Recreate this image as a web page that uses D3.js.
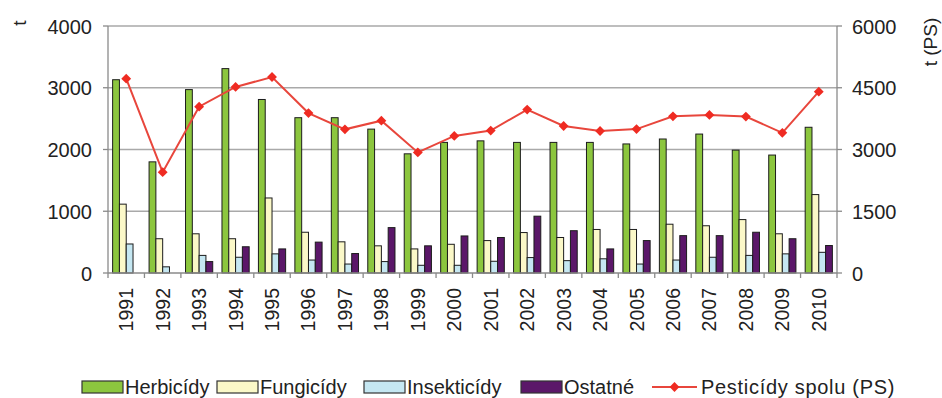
<!DOCTYPE html>
<html><head><meta charset="utf-8">
<script src="https://cdn.jsdelivr.net/npm/d3@7"></script>
<style>body{margin:0;background:#fff}svg{display:block;font-family:"Liberation Sans",Arial,sans-serif}</style>
</head><body><svg id="c" width="942" height="398"></svg>
<script>
const years = ["1991","1992","1993","1994","1995","1996","1997","1998","1999","2000","2001","2002","2003","2004","2005","2006","2007","2008","2009","2010"];
const herbicidy   = [3130,1800,2970,3310,2810,2515,2515,2330,1930,2115,2140,2115,2115,2115,2090,2170,2250,1990,1910,2360];
const fungicidy   = [1115,555,635,555,1215,660,505,440,390,465,525,655,575,705,705,790,765,865,635,1270];
const insekticidy = [470,100,285,255,310,210,145,185,125,125,190,250,200,230,145,210,255,285,310,335];
const ostatne     = [0,0,185,425,390,500,315,735,440,600,575,920,685,390,525,605,605,660,555,445];
const pesticidySpolu = [4720,2450,4040,4520,4760,3885,3490,3700,2930,3330,3460,3970,3570,3450,3495,3805,3840,3800,3405,4405];
const leftTicks = [0,1000,2000,3000,4000];
const rightTicks = [0,1500,3000,4500,6000];
const seriesNames = ["Herbicídy","Fungicídy","Insekticídy","Ostatné"];
const lineName = "Pesticídy spolu (PS)";
const colors = ["#8cc63e","#fbf8c8","#c5e7f2","#5b1769"];

const svg = d3.select("#c");
const L=108, R=837, T=26, B=273;
const x = d3.scaleBand().domain(years).range([L,R]).padding(0);
const yL = d3.scaleLinear().domain([0,4000]).range([B,T]);
const yR = d3.scaleLinear().domain([0,6000]).range([B,T]);
const bw = 6.8;
const xs = d3.scaleBand().domain(seriesNames).range([0,bw*4]);
const off = (x.bandwidth()-bw*4)/2;

// gridlines
svg.append("g").selectAll("line").data(leftTicks.filter(d=>d>0)).join("line")
  .attr("x1",L).attr("x2",R).attr("y1",d=>yL(d)).attr("y2",d=>yL(d))
  .attr("stroke","#a9a9a9").attr("stroke-width",1.3);

// axes lines
svg.append("line").attr("x1",L).attr("x2",L).attr("y1",T).attr("y2",B).attr("stroke","#8a8a8a").attr("stroke-width",1.3);
svg.append("line").attr("x1",R).attr("x2",R).attr("y1",T).attr("y2",B).attr("stroke","#8a8a8a").attr("stroke-width",1.3);

// bars
const allSeries=[herbicidy,fungicidy,insekticidy,ostatne];
allSeries.forEach((arr,si)=>{
  svg.append("g").selectAll("rect").data(arr.map((v,i)=>({y:years[i],v}))).join("rect")
    .filter(d=>d.v>0)
    .attr("x",d=>x(d.y)+off+xs(seriesNames[si]))
    .attr("y",d=>yL(d.v)).attr("width",xs.bandwidth()).attr("height",d=>B-yL(d.v))
    .attr("fill",colors[si]).attr("stroke","#1c1c1c").attr("stroke-width",1);
});

// x axis
svg.append("line").attr("x1",L).attr("x2",R).attr("y1",B).attr("y2",B).attr("stroke","#8a8a8a").attr("stroke-width",1.3);
svg.append("g").selectAll("line").data(years.concat(["end"])).join("line")
  .attr("x1",(d,i)=>L+i*x.bandwidth()).attr("x2",(d,i)=>L+i*x.bandwidth())
  .attr("y1",B).attr("y2",B+5).attr("stroke","#8a8a8a").attr("stroke-width",1.3);
svg.append("g").selectAll("text").data(years).join("text")
  .attr("transform",d=>`translate(${x(d)+x.bandwidth()/2+7},${B+15}) rotate(-90)`)
  .attr("text-anchor","end").attr("font-size",19.5).attr("fill","#222").text(d=>d);

// left ticks
const gl = svg.append("g");
gl.selectAll("line").data(leftTicks).join("line").attr("x1",L-5).attr("x2",L).attr("y1",d=>yL(d)).attr("y2",d=>yL(d)).attr("stroke","#8a8a8a").attr("stroke-width",1.3);
gl.selectAll("text").data(leftTicks).join("text").attr("x",92).attr("y",d=>yL(d)+7.5).attr("text-anchor","end").attr("font-size",20).attr("fill","#222").text(d=>d);
const gr = svg.append("g");
gr.selectAll("line").data(rightTicks).join("line").attr("x1",R).attr("x2",R+5).attr("y1",d=>yR(d)).attr("y2",d=>yR(d)).attr("stroke","#8a8a8a").attr("stroke-width",1.3);
gr.selectAll("text").data(rightTicks).join("text").attr("x",852).attr("y",d=>yR(d)+7.5).attr("text-anchor","start").attr("font-size",20).attr("fill","#222").text(d=>d);

// axis titles
svg.append("text").attr("transform","translate(26,23) rotate(-90)").attr("text-anchor","middle").attr("font-size",19).attr("fill","#222").text("t");
svg.append("text").attr("transform","translate(937,42) rotate(-90)").attr("text-anchor","middle").attr("font-size",19).attr("fill","#222").text("t (PS)");

// line
const line = d3.line().x((d,i)=>x(years[i])+x.bandwidth()/2).y(d=>yR(d));
svg.append("path").datum(pesticidySpolu).attr("d",line).attr("fill","none").attr("stroke","#e8463c").attr("stroke-width",2);
const diamond = d3.symbol().type(d3.symbolDiamond2).size(62);
svg.append("g").selectAll("path").data(pesticidySpolu).join("path")
  .attr("transform",(d,i)=>`translate(${x(years[i])+x.bandwidth()/2},${yR(d)})`)
  .attr("d",diamond).attr("fill","#ef2b22");

// legend
const ly = 387;
const swX = [82,217,364,521];
const lg = svg.append("g");
seriesNames.forEach((n,i)=>{
  lg.append("rect").attr("x",swX[i]).attr("y",ly-6).attr("width",41).attr("height",12).attr("fill",colors[i]).attr("stroke","#333").attr("stroke-width",1.2);
  lg.append("text").attr("x",swX[i]+43).attr("y",ly+7).attr("font-size",20).attr("fill","#222").text(n);
});
lg.append("line").attr("x1",652).attr("x2",697).attr("y1",ly).attr("y2",ly).attr("stroke","#e8463c").attr("stroke-width",2);
lg.append("path").attr("transform",`translate(674.5,${ly})`).attr("d",diamond).attr("fill","#ef2b22");
lg.append("text").attr("x",701).attr("y",ly+7).attr("font-size",20).attr("letter-spacing",0.7).attr("fill","#222").text(lineName);
</script></body></html>
